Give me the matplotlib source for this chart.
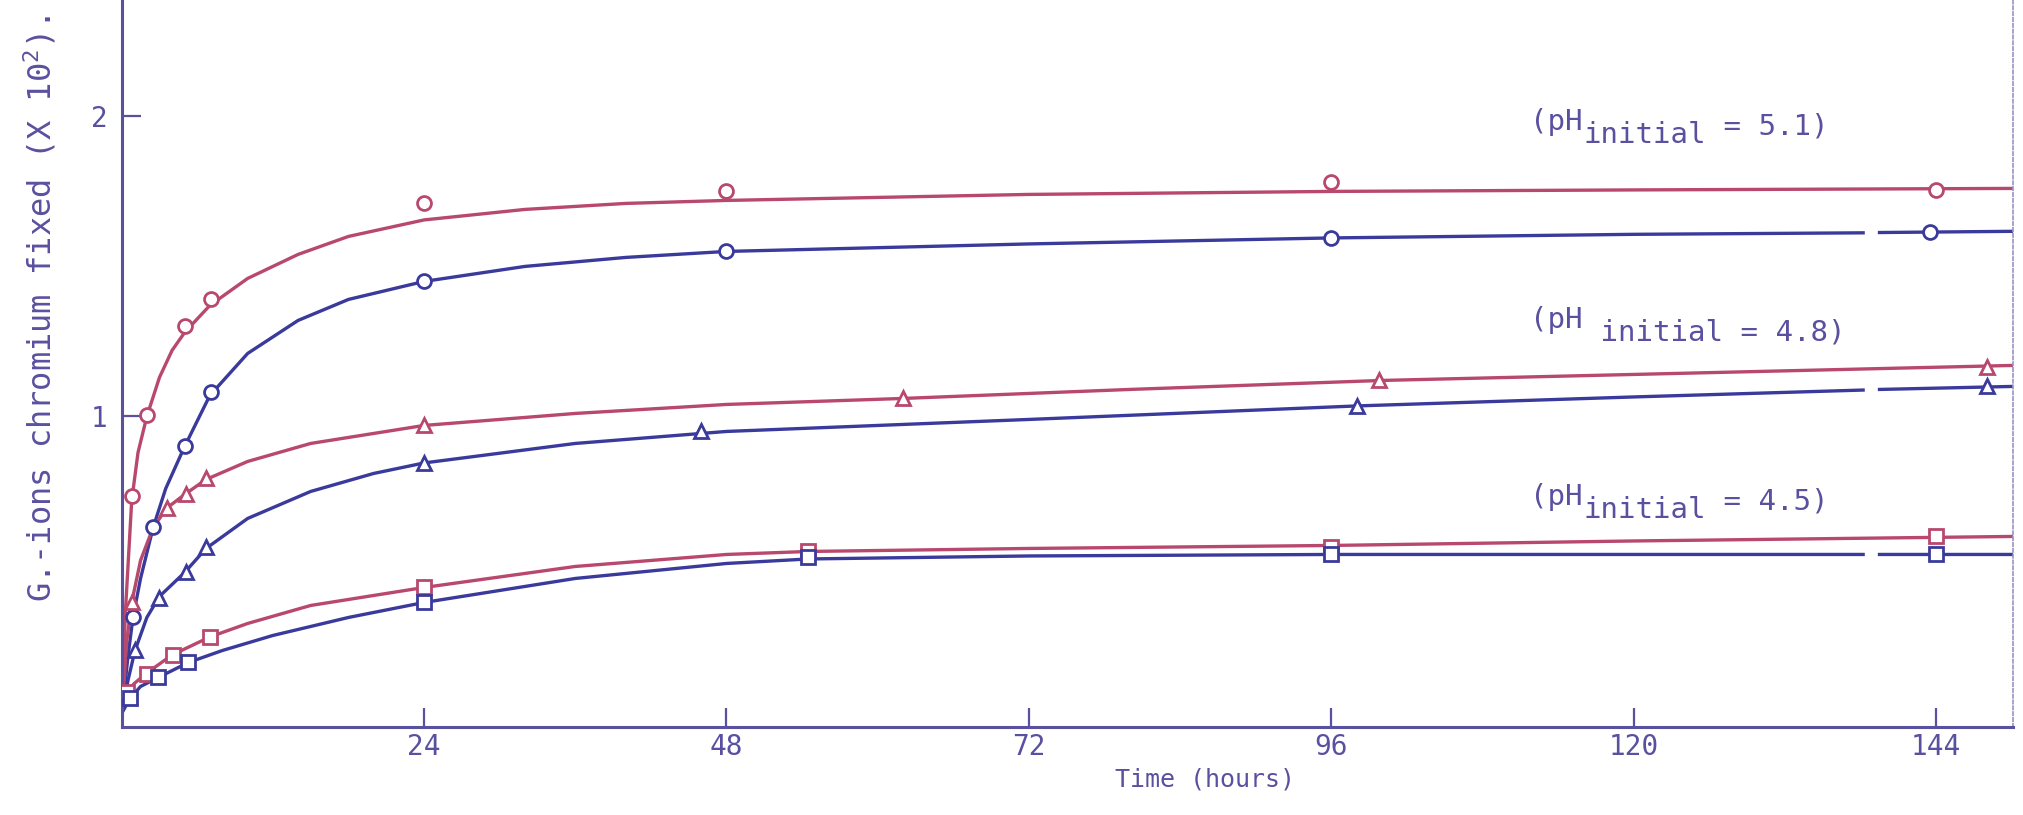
import matplotlib.pyplot as plt

plt.rcParams['font.family'] = ['DejaVu Sans Mono']
plt.rcParams['mathtext.fontset'] = 'custom'
plt.rcParams['mathtext.rm'] = 'DejaVu Sans Mono'

RED = '#b8486e'
BLUE = '#3a3a9c'
INK = '#5a50a0'
nan = float('nan')

# measured points (time in hours, g-ions chromium fixed x 10^2)
t_c_red = [0.8, 2.0, 5.0, 7.1, 24, 48, 96, 144]
g_c_red = [0.735, 1.005, 1.30, 1.39, 1.71, 1.75, 1.78, 1.755]
t_c_blue = [0.9, 2.5, 5.0, 7.1, 24, 48, 96, 143.5]
g_c_blue = [0.33, 0.63, 0.90, 1.08, 1.45, 1.55, 1.595, 1.615]

t_t_red = [0.8, 3.6, 5.1, 6.7, 24, 62, 99.8, 148]
g_t_red = [0.38, 0.695, 0.74, 0.795, 0.97, 1.06, 1.12, 1.166]
t_t_blue = [1.06, 3.0, 5.1, 6.7, 24, 46, 98, 148]
g_t_blue = [0.22, 0.395, 0.48, 0.566, 0.845, 0.95, 1.035, 1.10]

t_s_red = [0.4, 2.0, 4.1, 7.0, 24, 54.5, 96, 144]
g_s_red = [0.08, 0.14, 0.205, 0.266, 0.43, 0.55, 0.566, 0.60]
t_s_blue = [0.66, 2.9, 5.3, 24, 54.5, 96, 144]
g_s_blue = [0.06, 0.13, 0.18, 0.38, 0.53, 0.54, 0.54]

# hand-drawn smooth curves (the blue ink skips a short stretch near 139 h)
fit_c_red_t = [0, 0.3, 0.8, 1.3, 2, 3, 4, 5, 7, 10, 14, 18, 24, 32, 40, 48, 72, 96, 120, 150]
fit_c_red_g = [0.0, 0.35, 0.72, 0.88, 1.0, 1.13, 1.22, 1.28, 1.37, 1.46, 1.54, 1.60, 1.655, 1.69, 1.71, 1.72, 1.74, 1.75, 1.755, 1.76]
fit_c_blue_t = [0, 0.5, 0.9, 1.5, 2.5, 3.5, 5, 7, 10, 14, 18, 24, 32, 40, 48, 72, 96, 120, 138.2, nan, 139.5, 150]
fit_c_blue_g = [0.0, 0.2, 0.33, 0.46, 0.63, 0.76, 0.90, 1.07, 1.21, 1.32, 1.39, 1.45, 1.50, 1.53, 1.55, 1.575, 1.595, 1.607, 1.612, nan, 1.613, 1.617]

fit_t_red_t = [0, 0.4, 0.8, 1.5, 2.5, 3.6, 5, 6.7, 10, 15, 24, 36, 48, 62, 80, 100, 125, 150]
fit_t_red_g = [0.0, 0.25, 0.38, 0.52, 0.63, 0.695, 0.74, 0.79, 0.85, 0.91, 0.97, 1.01, 1.04, 1.06, 1.09, 1.12, 1.145, 1.17]
fit_t_blue_t = [0, 0.5, 1.06, 2, 3, 5, 6.7, 10, 15, 20, 24, 36, 48, 72, 98, 120, 138.2, nan, 139.5, 150]
fit_t_blue_g = [0.0, 0.12, 0.22, 0.33, 0.40, 0.48, 0.56, 0.66, 0.75, 0.81, 0.845, 0.91, 0.95, 0.99, 1.035, 1.065, 1.088, nan, 1.09, 1.10]

fit_s_red_t = [0, 0.4, 1, 2, 4, 7, 10, 15, 24, 36, 48, 54.5, 72, 96, 120, 150]
fit_s_red_g = [0.02, 0.08, 0.11, 0.145, 0.205, 0.265, 0.31, 0.37, 0.43, 0.50, 0.54, 0.55, 0.56, 0.57, 0.585, 0.60]
fit_s_blue_t = [0, 0.66, 1.5, 2.9, 5.3, 8, 12, 18, 24, 36, 48, 54.5, 72, 96, 120, 138.2, nan, 139.5, 150]
fit_s_blue_g = [0.01, 0.06, 0.10, 0.13, 0.18, 0.22, 0.27, 0.33, 0.38, 0.46, 0.51, 0.525, 0.535, 0.54, 0.54, 0.54, nan, 0.54, 0.54]

fig = plt.figure(figsize=(20.24, 8.15), dpi=100)
ax = fig.add_axes([0.0601, 0.108, 0.9345, 0.892])

curves = [
    (fit_c_red_t, fit_c_red_g, t_c_red, g_c_red, RED, 'o'),
    (fit_c_blue_t, fit_c_blue_g, t_c_blue, g_c_blue, BLUE, 'o'),
    (fit_t_red_t, fit_t_red_g, t_t_red, g_t_red, RED, '^'),
    (fit_t_blue_t, fit_t_blue_g, t_t_blue, g_t_blue, BLUE, '^'),
    (fit_s_red_t, fit_s_red_g, t_s_red, g_s_red, RED, 's'),
    (fit_s_blue_t, fit_s_blue_g, t_s_blue, g_s_blue, BLUE, 's'),
]
for ft, fg, t, g, col, mk in curves:
    ax.plot(ft, fg, '-', color=col, lw=2.4, zorder=2)
    ax.plot(t, g, mk, color=col, mfc='white', mec=col, mew=2.0, ms=10, zorder=3)

ax.set_xlim(0, 150.1)
ax.set_ylim(-0.035, 2.388)

ax.set_xticks([24, 48, 72, 96, 120, 144])
ax.set_yticks([1, 2])
ax.tick_params(axis='both', direction='in', length=14, width=1.6, colors=INK, labelsize=20)
ax.tick_params(axis='x', pad=4)
ax.tick_params(axis='y', pad=10)

for side in ['left', 'bottom']:
    ax.spines[side].set_color(INK)
    ax.spines[side].set_linewidth(2.2)
ax.spines['top'].set_visible(False)
ax.spines['right'].set_color('#9a93c0')
ax.spines['right'].set_linewidth(1.2)
ax.spines['right'].set_linestyle((0, (2, 1.5)))


def ph_label(x, y, value, sub_all=False):
    fs = 21
    cw = 0.602 * fs
    ax.text(x, y, '(pH', color=INK, fontsize=fs, va='center', ha='left')
    if sub_all:
        ax.annotate(' initial = ' + value + ')', (x, y), xytext=(3 * cw, -9),
                    textcoords='offset points', color=INK, fontsize=fs, va='center')
    else:
        ax.annotate('initial', (x, y), xytext=(3 * cw, -9),
                    textcoords='offset points', color=INK, fontsize=fs, va='center')
        ax.annotate(' = ' + value + ')', (x, y), xytext=(10 * cw, -3),
                    textcoords='offset points', color=INK, fontsize=fs, va='center')


ph_label(111.8, 1.98, '5.1')
ph_label(111.8, 1.32, '4.8', sub_all=True)
ph_label(111.8, 0.73, '4.5')

fig.text(40 / 2024, 1 - 308 / 815, 'G.-ions chromium fixed (X 10$^2$).', rotation=90,
         ha='center', va='center', color=INK, fontsize=23)
fig.text(1205 / 2024, 1 - 779 / 815, 'Time (hours)', ha='center', va='center',
         color=INK, fontsize=18)

fig.savefig('out.png', dpi=100)
